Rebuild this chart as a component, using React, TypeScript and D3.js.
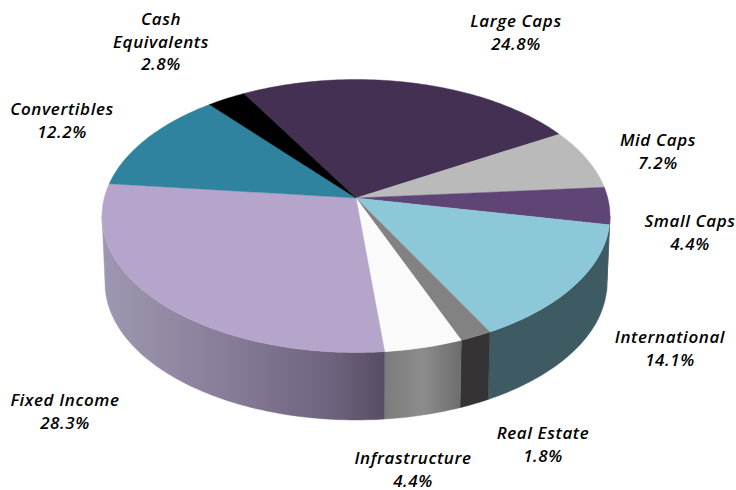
import React from 'react';
import * as d3 from 'd3';

const categories = ['Large Caps', 'Mid Caps', 'Small Caps', 'International', 'Real Estate', 'Infrastructure', 'Fixed Income', 'Convertibles', 'Cash Equivalents'];
const shares = [24.8, 7.2, 4.4, 14.1, 1.8, 4.4, 28.3, 12.2, 2.8];
const shareLabels = ['24.8%', '7.2%', '4.4%', '14.1%', '1.8%', '4.4%', '28.3%', '12.2%', '2.8%'];

const topColors = ['#433052', '#bababa', '#5f4476', '#8dc8d9', '#828282', '#fafafa', '#b5a5cb', '#2f839f', '#000000'];
const wallColors = ['#2c2036', '#7d7d7d', '#3f2d4f', '#3e5a62', '#353333', 'url(#wall-infra)', 'url(#wall-fixed)', '#1f5a6d', '#000000'];

// label centre x and first baseline, same order as categories
const labelX = [516, 658, 690, 670, 543, 413, 65, 62, 161];
const labelY = [27, 146, 227, 343, 439, 464, 406, 115, 25];

const width = 736;
const height = 490;
const START_ANGLE = (-29.8 * Math.PI) / 180;

// the pie is in perspective: hub sits above the centre of the ellipse
const top = { cx: 356, cy: 216, rx: 254, ry: 136.5 };
const bottom = { cx: 356, cy: 283, rx: 251, ry: 137 };
const TILT = -0.132;

// only this part of the rim faces the viewer
const FRONT_FROM = Math.PI - Math.acos(TILT * -1);
const FRONT_TO = Math.PI + Math.acos(TILT * -1);

const project = (e: typeof top, angle: number, r = 1): [number, number] => {
  const u = r * Math.sin(angle);
  const v = -r * Math.cos(angle);
  const d = 1 + TILT * v;
  return [e.cx + (e.rx * u * Math.sqrt(1 - TILT * TILT)) / d, e.cy + (e.ry * (v + TILT)) / d];
};

const arcAngles = (a0: number, a1: number) => {
  const n = Math.max(2, Math.ceil((a1 - a0) / 0.02));
  return d3.range(n + 1).map(i => a0 + ((a1 - a0) * i) / n);
};

const line = d3.line<[number, number]>();

const App = () => {
  const pie = d3.pie<number>().sort(null).startAngle(START_ANGLE).endAngle(START_ANGLE + 2 * Math.PI);
  const slices = pie(shares);

  return (
    <svg width={width} height={height} style={{ position: 'absolute', left: 0, top: 0, background: '#fff' }}>
      <defs>
        <linearGradient id="wall-fixed" gradientUnits="userSpaceOnUse" x1={102} x2={386} y1={0} y2={0}>
          <stop offset="0" stopColor="#9f97b1" />
          <stop offset="0.45" stopColor="#877c97" />
          <stop offset="0.8" stopColor="#6f6480" />
          <stop offset="1" stopColor="#574d61" />
        </linearGradient>
        <linearGradient id="wall-infra" gradientUnits="userSpaceOnUse" x1={385} x2={461} y1={0} y2={0}>
          <stop offset="0" stopColor="#7c7c7c" />
          <stop offset="0.5" stopColor="#8c8c8c" />
          <stop offset="1" stopColor="#6d6d6d" />
        </linearGradient>
      </defs>

      {slices.map((s, i) => {
        const a0 = Math.max(s.startAngle, FRONT_FROM);
        const a1 = Math.min(s.endAngle, FRONT_TO);
        if (a1 <= a0) return null;
        const angles = arcAngles(a0, a1);
        const pts = [...angles.map(a => project(top, a)), ...angles.slice().reverse().map(a => project(bottom, a))];
        return <path key={categories[i]} d={line(pts) + 'Z'} fill={wallColors[i]} stroke={wallColors[i]} strokeWidth={0.4} />;
      })}

      {slices.map((s, i) => {
        const pts = [project(top, 0, 0), ...arcAngles(s.startAngle, s.endAngle).map(a => project(top, a))];
        return <path key={categories[i]} d={line(pts) + 'Z'} fill={topColors[i]} stroke={topColors[i]} strokeWidth={0.4} />;
      })}

      <g fontFamily="'Open Sans', sans-serif" fontStyle="italic" fontWeight={600} fontSize={17} letterSpacing={0.6} textAnchor="middle" fill="#000">
        {categories.map((c, i) => {
          const lines = c === 'Cash Equivalents' ? ['Cash', 'Equivalents', shareLabels[i]] : [c, shareLabels[i]];
          return (
            <text key={c}>
              {lines.map((t, j) => (
                <tspan key={t} x={labelX[i]} y={labelY[i] + j * 22.5}>{t}</tspan>
              ))}
            </text>
          );
        })}
      </g>
    </svg>
  );
};

export default App;
